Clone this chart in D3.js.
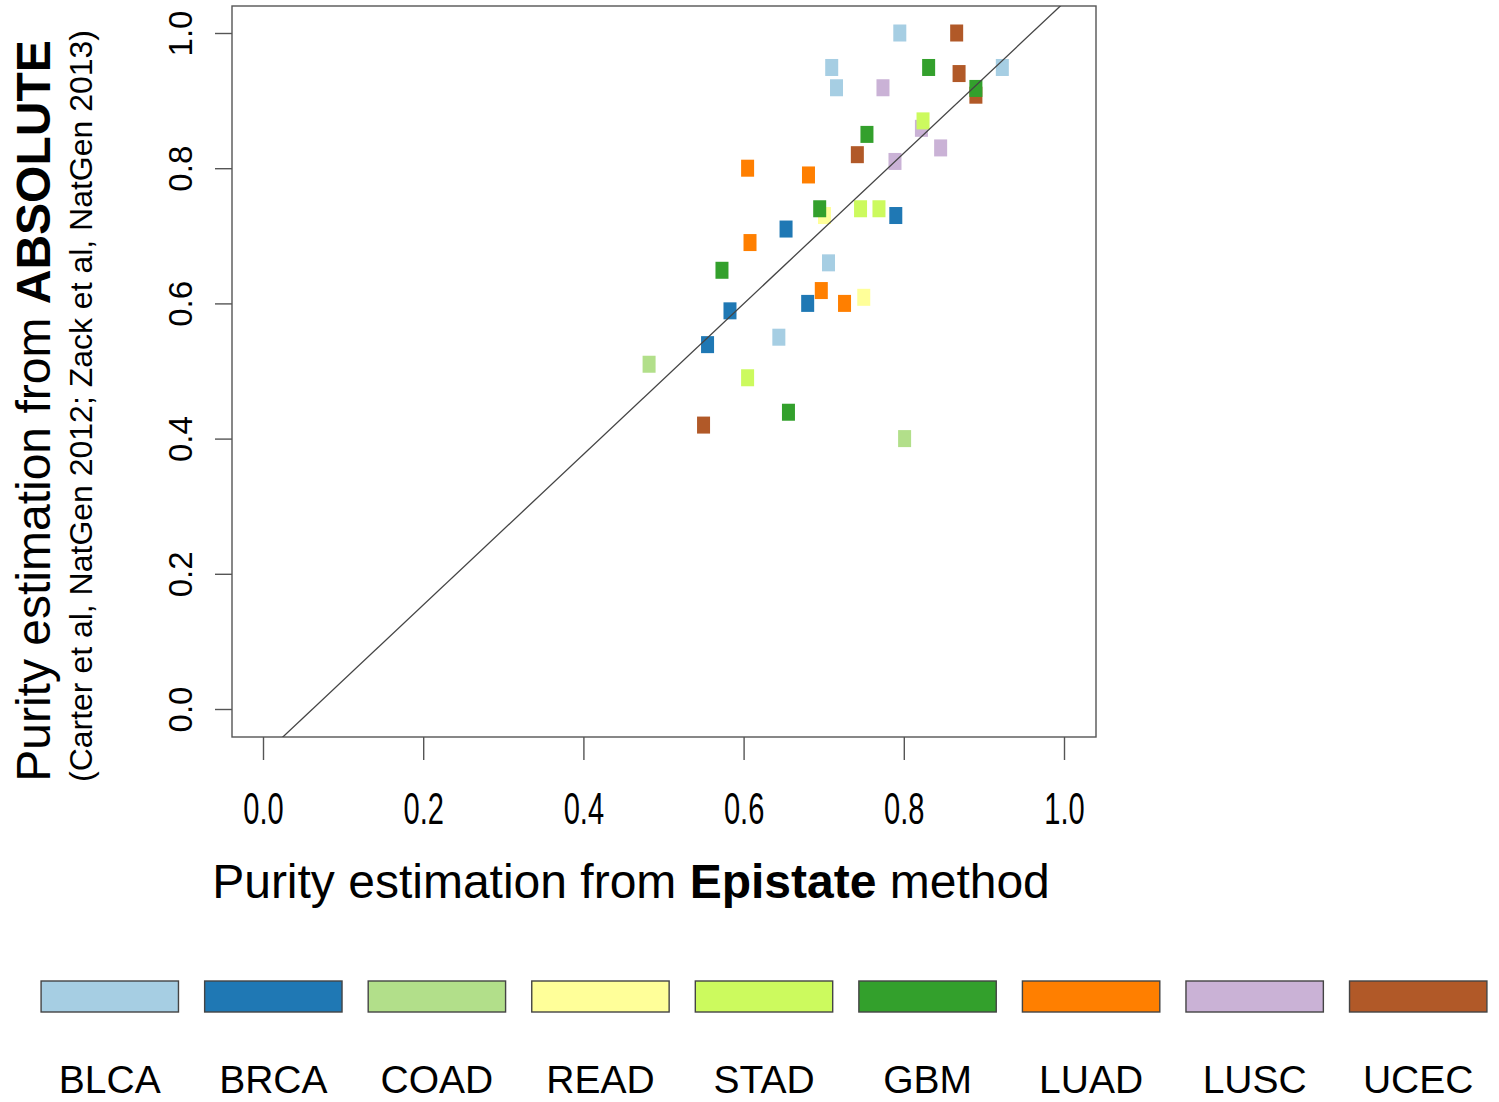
<html>
<head>
    <title>Purity estimation: Epistate vs ABSOLUTE</title>
    <script src="https://d3js.org/d3.v7.min.js"></script>
    <style>
        body {
            margin: 0;
            background-color: white;
            font-family: "Liberation Sans", Arial, sans-serif;
        }
        svg text {
            fill: #000;
        }
    </style>
</head>
<body>
    <svg id="chart" width="1499" height="1102"></svg>

    <script>
        // cancer types, legend order
        const categories = ['BLCA', 'BRCA', 'COAD', 'READ', 'STAD', 'GBM', 'LUAD', 'LUSC', 'UCEC'];
        const colors = ['#a6cee3', '#1f78b4', '#b2df8a', '#ffff99', '#ccfa5e', '#33a02c', '#ff7f00', '#cab2d6', '#b15928'];

        // one entry per sample, drawing order
        const pointType = [
            'BLCA', 'BLCA', 'BLCA', 'BLCA', 'BLCA', 'BLCA',
            'BRCA', 'BRCA', 'BRCA', 'BRCA', 'BRCA',
            'COAD', 'COAD',
            'READ', 'READ',
            'LUSC', 'LUSC', 'LUSC', 'LUSC',
            'UCEC', 'UCEC', 'UCEC', 'UCEC', 'UCEC',
            'LUAD', 'LUAD', 'LUAD', 'LUAD', 'LUAD',
            'STAD', 'STAD', 'STAD', 'STAD',
            'GBM', 'GBM', 'GBM', 'GBM', 'GBM', 'GBM'
        ];
        const epistate = [
            0.795, 0.710, 0.923, 0.716, 0.706, 0.644,
            0.790, 0.653, 0.680, 0.583, 0.555,
            0.482, 0.801,
            0.701, 0.750,
            0.774, 0.822, 0.846, 0.789,
            0.866, 0.869, 0.890, 0.742, 0.550,
            0.605, 0.681, 0.608, 0.697, 0.726,
            0.824, 0.746, 0.769, 0.605,
            0.831, 0.890, 0.754, 0.695, 0.573, 0.656
        ];
        const absolute = [
            1.000, 0.949, 0.949, 0.919, 0.660, 0.550,
            0.730, 0.710, 0.600, 0.589, 0.539,
            0.510, 0.400,
            0.730, 0.609,
            0.919, 0.859, 0.830, 0.810,
            1.000, 0.940, 0.908, 0.820, 0.420,
            0.800, 0.790, 0.690, 0.619, 0.600,
            0.870, 0.740, 0.740, 0.490,
            0.949, 0.918, 0.850, 0.740, 0.649, 0.439
        ];
        const tickValues = [0, 0.2, 0.4, 0.6, 0.8, 1.0];

        // fitted line
        const fitIntercept = -0.069;
        const fitSlope = 1.114;

        const svg = d3.select("#chart");
        const font = '"Liberation Sans", Arial, sans-serif';

        // plot frame
        const frame = { left: 232, right: 1096, top: 6, bottom: 737 };

        const x = d3.scaleLinear().domain([0, 1]).range([263, 1064]);
        const y = d3.scaleLinear().domain([0, 1]).range([709, 33]);
        const color = d3.scaleOrdinal().domain(categories).range(colors);

        svg.append("defs").append("clipPath")
            .attr("id", "plotClip")
            .append("rect")
            .attr("x", frame.left)
            .attr("y", frame.top)
            .attr("width", frame.right - frame.left)
            .attr("height", frame.bottom - frame.top);

        // X axis
        const xAxis = svg.append("g")
            .attr("transform", "translate(0," + frame.bottom + ")")
            .call(d3.axisBottom(x).tickValues(tickValues).tickSize(23).tickFormat(d3.format(".1f")));
        xAxis.select(".domain").remove();
        xAxis.selectAll(".tick line").style("stroke", "#555").style("stroke-width", 1.4);
        xAxis.selectAll(".tick text")
            .attr("y", 0)
            .attr("dy", 0)
            .attr("transform", "translate(0,87) scale(0.66,1)")
            .style("font-family", font)
            .style("font-size", "44px")
            .style("fill", "#000");

        // Y axis
        const yAxis = svg.append("g")
            .attr("transform", "translate(" + frame.left + ",0)")
            .call(d3.axisLeft(y).tickValues(tickValues).tickSize(17).tickFormat(d3.format(".1f")));
        yAxis.select(".domain").remove();
        yAxis.selectAll(".tick line").style("stroke", "#555").style("stroke-width", 1.4);
        yAxis.selectAll(".tick text")
            .attr("x", 0)
            .attr("dy", 0)
            .attr("text-anchor", "middle")
            .attr("transform", "translate(-40,0) rotate(-90)")
            .style("font-family", font)
            .style("font-size", "33px")
            .style("fill", "#000");

        // frame box
        svg.append("rect")
            .attr("x", frame.left)
            .attr("y", frame.top)
            .attr("width", frame.right - frame.left)
            .attr("height", frame.bottom - frame.top)
            .attr("fill", "none")
            .attr("stroke", "#555")
            .attr("stroke-width", 1.4);

        // points
        const points = pointType.map((t, i) => ({ type: t, ex: epistate[i], ab: absolute[i] }));
        svg.append("g")
            .selectAll("rect")
            .data(points)
            .enter()
            .append("rect")
            .attr("x", d => x(d.ex) - 6.5)
            .attr("y", d => y(d.ab) - 8.5)
            .attr("width", 13)
            .attr("height", 17)
            .attr("fill", d => color(d.type));

        // fit line
        svg.append("line")
            .attr("clip-path", "url(#plotClip)")
            .attr("x1", x(-0.1))
            .attr("y1", y(fitIntercept + fitSlope * -0.1))
            .attr("x2", x(1.1))
            .attr("y2", y(fitIntercept + fitSlope * 1.1))
            .attr("stroke", "#444")
            .attr("stroke-width", 1.3);

        // x title
        const xTitle = svg.append("text")
            .attr("x", 631)
            .attr("y", 898)
            .attr("text-anchor", "middle")
            .style("font-family", font)
            .style("font-size", "48px");
        xTitle.append("tspan").text("Purity estimation from ");
        xTitle.append("tspan").style("font-weight", "bold").text("Epistate");
        xTitle.append("tspan").text(" method");

        // y title
        const yTitle = svg.append("text")
            .attr("transform", "translate(50,411) rotate(-90)")
            .attr("text-anchor", "middle")
            .style("font-family", font)
            .style("font-size", "48px");
        yTitle.append("tspan").text("Purity estimation from ");
        yTitle.append("tspan").style("font-weight", "bold").text("ABSOLUTE");

        svg.append("text")
            .attr("transform", "translate(92,406) rotate(-90)")
            .attr("text-anchor", "middle")
            .attr("textLength", 752)
            .attr("lengthAdjust", "spacingAndGlyphs")
            .style("font-family", font)
            .style("font-size", "31px")
            .text("(Carter et al, NatGen 2012; Zack et al, NatGen 2013)");

        // legend
        const legendX = d3.scaleBand()
            .domain(categories)
            .range([28, 1500])
            .paddingInner(0.16)
            .paddingOuter(0.08);

        const legend = svg.append("g");
        legend.selectAll("rect")
            .data(categories)
            .enter()
            .append("rect")
            .attr("x", d => legendX(d))
            .attr("y", 981)
            .attr("width", legendX.bandwidth())
            .attr("height", 31)
            .attr("fill", d => color(d))
            .attr("stroke", "#444")
            .attr("stroke-width", 1.4);

        legend.selectAll("text")
            .data(categories)
            .enter()
            .append("text")
            .attr("x", d => legendX(d) + legendX.bandwidth() / 2)
            .attr("y", 1093)
            .attr("text-anchor", "middle")
            .style("font-family", font)
            .style("font-size", "39px")
            .text(d => d);
    </script>
</body>
</html>
